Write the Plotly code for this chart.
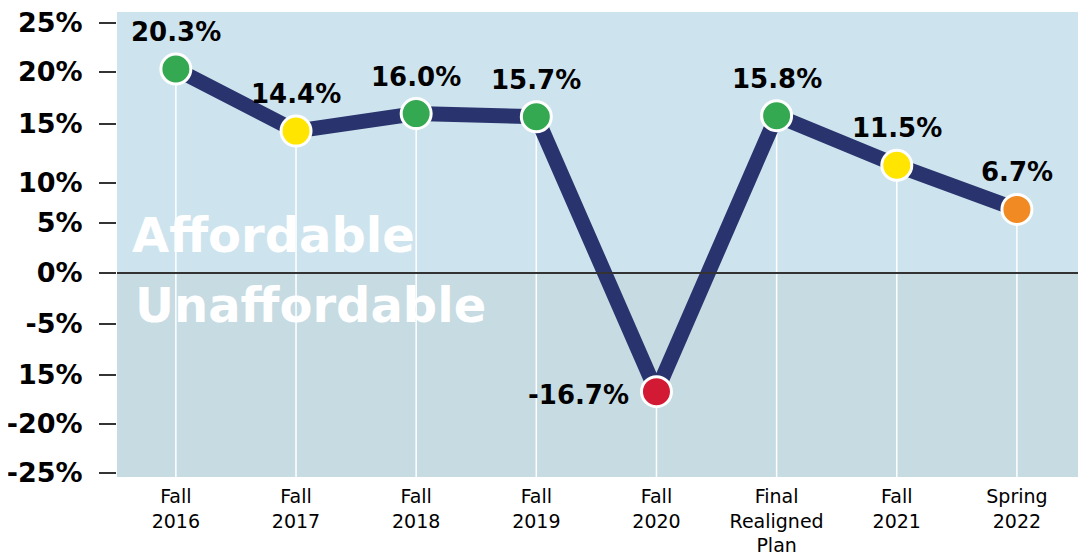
import numpy as np
import plotly.graph_objects as go

# ---- data ----
categories = ["Fall<br>2016", "Fall<br>2017", "Fall<br>2018", "Fall<br>2019",
              "Fall<br>2020", "Final<br>Realigned<br>Plan", "Fall<br>2021", "Spring<br>2022"]
values = [20.3, 14.4, 16.0, 15.7, -16.7, 15.8, 11.5, 6.7]
value_labels = ["20.3%", "14.4%", "16.0%", "15.7%", "-16.7%", "15.8%", "11.5%", "6.7%"]
marker_colors = ["#35a852", "#ffe500", "#35a852", "#35a852", "#d31a35", "#35a852", "#ffe500", "#f18a22"]

# y-axis as drawn in the reference (tick label, value it stands for, where it is drawn)
tick_text = ["25%", "20%", "15%", "10%", "5%", "0%", "-5%", "15%", "-20%", "-25%"]
tick_meaning = [25, 20, 15, 10, 5, 0, -5, -15, -20, -25]
tick_drawn = [25.0, 20.1, 14.9, 9.0, 5.0, 0.0, -5.1, -10.2, -15.1, -20.0]

# map values onto the chart's drawn scale
y_plot = np.interp(values, tick_meaning[::-1], tick_drawn[::-1])
x_idx = list(range(len(categories)))

Y_MIN, Y_MAX = -20.4, 26.1
FONT = "DejaVu Sans"

fig = go.Figure()
fig.add_trace(go.Scatter(
    x=x_idx, y=y_plot, mode="lines+markers",
    line=dict(color="#29346e", width=15),
    marker=dict(size=30, color=marker_colors, line=dict(color="white", width=3)),
    hoverinfo="skip", showlegend=False,
))

shapes = [
    dict(type="rect", xref="paper", yref="y", x0=0, x1=1, y0=Y_MIN, y1=0,
         fillcolor="#c6dbe2", line=dict(width=0), layer="below"),
]
for xi, yv in zip(x_idx, y_plot):
    shapes.append(dict(type="line", xref="x", yref="y", x0=xi, x1=xi, y0=yv, y1=Y_MIN,
                       line=dict(color="white", width=1.5), layer="below"))
shapes.append(dict(type="line", xref="paper", yref="y", x0=0, x1=1, y0=0, y1=0,
                   line=dict(color="#333333", width=2), layer="above"))

annotations = []
for xi, yv, lab in zip(x_idx, y_plot, value_labels):
    if yv < 0:
        annotations.append(dict(x=xi, y=yv, text=lab, showarrow=False, xanchor="right",
                                yanchor="middle", xshift=-25, yshift=-3,
                                font=dict(family=FONT, size=26, color="black", weight="bold")))
    else:
        annotations.append(dict(x=xi, y=yv, text=lab, showarrow=False, xanchor="center",
                                yanchor="middle", yshift=37,
                                font=dict(family=FONT, size=26, color="black", weight="bold")))

annotations.append(dict(xref="paper", yref="y", x=0.0135, y=3.8, text="Affordable", showarrow=False,
                        xanchor="left", yanchor="middle",
                        font=dict(family=FONT, size=48, color="white", weight="bold")))
annotations.append(dict(xref="paper", yref="y", x=0.0165, y=-3.2, text="Unaffordable", showarrow=False,
                        xanchor="left", yanchor="middle",
                        font=dict(family=FONT, size=48, color="white", weight="bold")))

fig.update_layout(
    width=1086, height=555, autosize=False,
    margin=dict(l=109, r=11, t=4, b=86, autoexpand=False),
    paper_bgcolor="white", plot_bgcolor="#cde4ee",
    shapes=shapes, annotations=annotations,
    xaxis=dict(range=[-0.49, 7.55], tickvals=x_idx, ticktext=categories,
               showgrid=False, zeroline=False, showline=False, ticks="",
               ticklabelstandoff=6, automargin=False, ticklabeloverflow="allow",
               tickfont=dict(family=FONT, size=19, color="black"), fixedrange=True),
    yaxis=dict(range=[Y_MIN, Y_MAX], tickvals=tick_drawn, ticktext=tick_text,
               showgrid=False, zeroline=False, showline=False,
               ticks="outside", ticklen=17, tickwidth=1.5, tickcolor="#333333",
               ticklabelstandoff=11, automargin=False, ticklabeloverflow="allow",
               tickfont=dict(family=FONT, size=27, color="black", weight="bold"), fixedrange=True),
)

fig.write_html("out.html")
